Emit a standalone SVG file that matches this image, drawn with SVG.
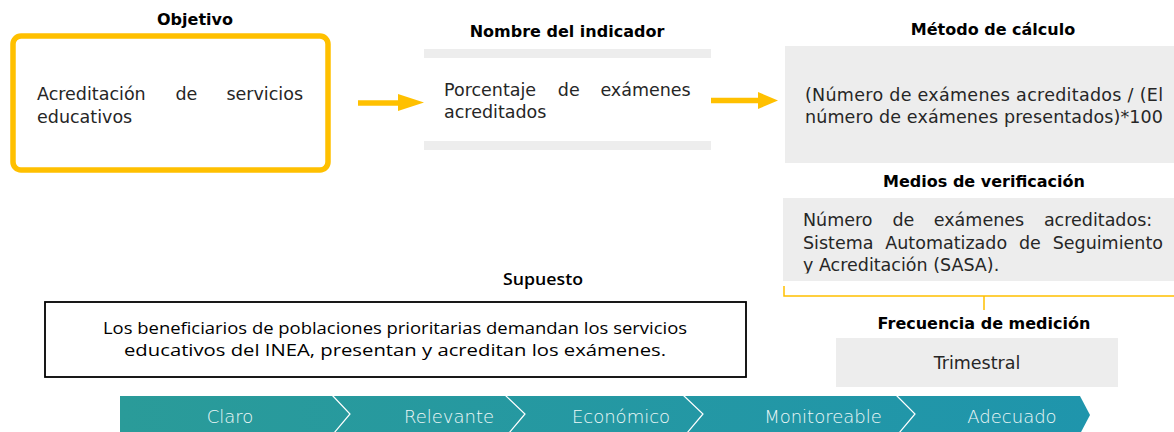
<svg xmlns="http://www.w3.org/2000/svg" width="1174" height="432" viewBox="0 0 1174 432">
  <style>
    .title { font-family: "DejaVu Sans", "Liberation Sans", sans-serif; font-weight: bold; font-size: 16px; fill: #000; text-anchor: middle; }
    .body { font-family: "DejaVu Sans", "Liberation Sans", sans-serif; font-size: 17.5px; fill: #262626; }
    .gray { fill: #EDEDED; }
    .calibri { font-family: "Open Sans", "Noto Sans", sans-serif; fill: #000; }
    .bar-text { font-family: "DejaVu Sans", "Liberation Sans", sans-serif; font-weight: 200; font-size: 18px; fill: #EEF8F8; text-anchor: middle; }
    .sep { fill: none; stroke: #FFFFFF; stroke-width: 1.2; }
  </style>
  <defs>
    <linearGradient id="barGrad" x1="0" y1="0" x2="1" y2="0">
      <stop offset="0" stop-color="#2A9B99"/>
      <stop offset="1" stop-color="#1F95AC"/>
    </linearGradient>
    <clipPath id="clipMedios">
      <rect x="783" y="198" width="391" height="75.5"/>
    </clipPath>
  </defs>
  <rect x="0" y="0" width="1174" height="432" fill="#FFFFFF"/>

  <g id="objetivo">
    <text class="title" x="195" y="25">Objetivo</text>
    <rect x="13" y="36" width="315" height="134" rx="8" fill="#FFFFFF" stroke="#FFC000" stroke-width="5.5"/>
    <text class="body" y="100"><tspan x="37">Acreditación</tspan><tspan x="175.4">de</tspan><tspan x="226.4">servicios</tspan></text>
    <text class="body" x="37" y="123">educativos</text>
  </g>

  <g id="indicador">
    <text class="title" x="567" y="37">Nombre del indicador</text>
    <rect class="gray" x="424" y="49" width="287" height="9"/>
    <rect class="gray" x="424" y="141" width="287" height="9"/>
    <text class="body" y="96"><tspan x="444">Porcentaje</tspan><tspan x="557.8">de</tspan><tspan x="600.4">exámenes</tspan></text>
    <text class="body" x="444" y="118">acreditados</text>
  </g>

  <g id="metodo">
    <text class="title" x="993" y="35">Método de cálculo</text>
    <rect class="gray" x="785" y="46" width="389" height="117"/>
    <text class="body" x="805" y="101" textLength="358" lengthAdjust="spacing">(Número de exámenes acreditados / (El</text>
    <text class="body" x="805" y="123" textLength="358" lengthAdjust="spacing">número de exámenes presentados)*100</text>
  </g>

  <g id="medios">
    <text class="title" x="984" y="187">Medios de verificación</text>
    <rect class="gray" x="783" y="198" width="391" height="83"/>
    <g clip-path="url(#clipMedios)">
      <text class="body" y="226"><tspan x="803">Número</tspan><tspan x="892.4">de</tspan><tspan x="933.8">exámenes</tspan><tspan x="1043.9">acreditados:</tspan></text>
      <text class="body" y="249"><tspan x="803">Sistema</tspan><tspan x="885.3">Automatizado</tspan><tspan x="1019">de</tspan><tspan x="1052.7">Seguimiento</tspan></text>
      <text class="body" x="803" y="271">y Acreditación (SASA).</text>
    </g>
  </g>

  <g id="frecuencia">
    <text class="title" x="984" y="329">Frecuencia de medición</text>
    <rect class="gray" x="836" y="338" width="282" height="49"/>
    <text class="body" x="977" y="369" text-anchor="middle">Trimestral</text>
  </g>

  <g id="supuesto">
    <text class="calibri" x="543" y="285" font-size="15.5" font-weight="600" text-anchor="middle" textLength="80" lengthAdjust="spacingAndGlyphs">Supuesto</text>
    <rect x="45" y="302" width="701" height="75" fill="#FFFFFF" stroke="#000000" stroke-width="1.8"/>
    <text class="calibri" x="395" y="334" font-size="16" text-anchor="middle" textLength="584" lengthAdjust="spacingAndGlyphs">Los beneficiarios de poblaciones prioritarias demandan los servicios</text>
    <text class="calibri" x="395" y="356" font-size="16" text-anchor="middle" textLength="542" lengthAdjust="spacingAndGlyphs">educativos del INEA, presentan y acreditan los exámenes.</text>
  </g>

  <g id="criterios">
    <path d="M120,396 H1080 L1090,415 L1080,434 H120 Z" fill="url(#barGrad)"/>
    <polyline class="sep" points="332,395 350,414 334,433"/>
    <polyline class="sep" points="505,395 525,414 509,433"/>
    <polyline class="sep" points="683,395 703,414 687,433"/>
    <polyline class="sep" points="896,395 915,414 899,433"/>
    <text class="bar-text" x="230" y="423">Claro</text>
    <text class="bar-text" x="449" y="423">Relevante</text>
    <text class="bar-text" x="621" y="423">Económico</text>
    <text class="bar-text" x="823" y="423">Monitoreable</text>
    <text class="bar-text" x="1012" y="423">Adecuado</text>
  </g>

  <g id="connectors">
    <line x1="358" y1="103" x2="400" y2="103" stroke="#FFC000" stroke-width="5.5"/>
    <polygon points="398,94 424,102.5 398,111" fill="#FFC000"/>
    <line x1="711" y1="100.5" x2="760" y2="100.5" stroke="#FFC000" stroke-width="5.5"/>
    <polygon points="758,92 778,100.5 758,109" fill="#FFC000"/>
    <path d="M784,286 V296 H1174 M984,296 V310" fill="none" stroke="#FFC000" stroke-width="1.5"/>
  </g>
</svg>
